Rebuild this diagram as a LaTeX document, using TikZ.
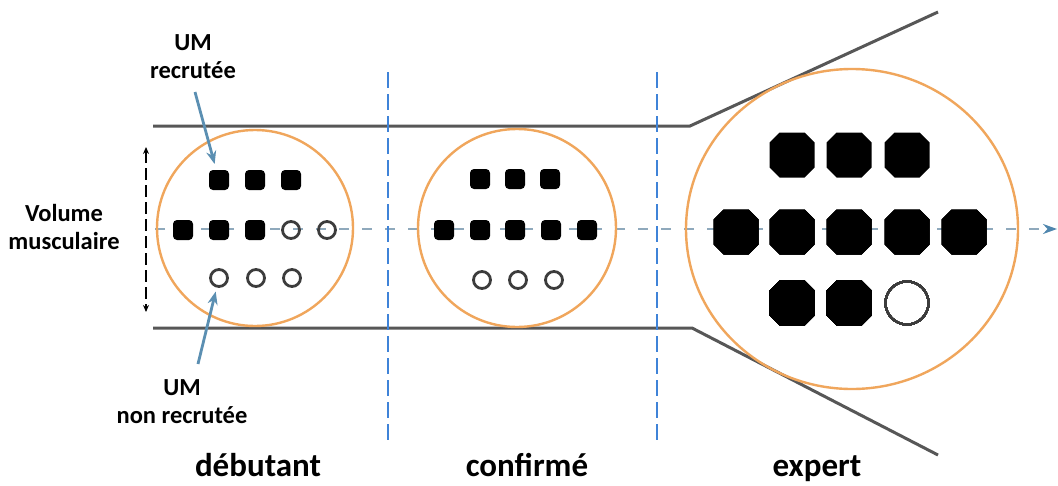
\documentclass[tikz,border=0pt]{standalone}
\usepackage{fontspec}
\setmainfont{Carlito}
\usetikzlibrary{arrows.meta}
\definecolor{tubegrey}{HTML}{575757}
\definecolor{ringorange}{HTML}{F0A65C}
\definecolor{sepblue}{HTML}{3F83D8}
\definecolor{axisgrey}{HTML}{8FA9BC}
\definecolor{axishead}{HTML}{4F86AE}
\definecolor{pointblue}{HTML}{5B8FB2}
\definecolor{ringgrey}{HTML}{3C3C3C}
\tikzset{
  tube/.style={draw=tubegrey, line width=3pt},
  ring/.style={draw=ringorange, line width=2.4pt},
  separator/.style={draw=sepblue, line width=2pt, dash pattern=on 16pt off 6pt},
  axisline/.style={draw=axisgrey, line width=2pt, dash pattern=on 10pt off 13pt,
    -{Stealth[length=14pt,width=10pt,color=axishead]}},
  umon/.style={rectangle, fill=black, minimum size=20pt, inner sep=0pt, rounded corners=4pt},
  umoff/.style={circle, draw=ringgrey, line width=2.8pt, minimum size=17pt, inner sep=0pt},
  bigoff/.style={circle, draw=ringgrey, line width=2pt, minimum size=43pt, inner sep=0pt},
  pointer/.style={draw=pointblue, line width=2.8pt, -{Stealth[length=13pt,width=10pt]}},
  volarrow/.style={draw=black, line width=1.4pt, dash pattern=on 12pt off 5pt,
    {Stealth[length=7pt,width=6pt]}-{Stealth[length=7pt,width=6pt]}},
  label/.style={font=\fontsize{24.5}{28}\selectfont\bfseries, align=center, inner sep=0pt},
  stage/.style={font=\fontsize{33}{36}\selectfont\bfseries, inner sep=0pt, anchor=base},
}
% filled octagon: half width 22.5, corners cut by 10
\newcommand{\octo}[2]{%
  \fill[shift={(#1,#2)}] (-12.5,-22.5) -- (12.5,-22.5) -- (22.5,-12.5) -- (22.5,12.5)
    -- (12.5,22.5) -- (-12.5,22.5) -- (-22.5,12.5) -- (-22.5,-12.5) -- cycle;}
\begin{document}
\begin{tikzpicture}[x=1pt,y=-1pt]
\useasboundingbox (0,0) rectangle (1058,485);
\fill[white] (0,0) rectangle (1058,485);

% central axis
\coordinate (axA) at (155,229);
\coordinate (axB) at (1057,229);
\draw[axisline] (axA) -- (axB);

% muscle outline
\coordinate (t0) at (153,126); \coordinate (t1) at (690,126); \coordinate (t2) at (938,12);
\coordinate (b0) at (153,328); \coordinate (b1) at (692,328); \coordinate (b2) at (938,455);
\draw[tube] (t0) -- (t1) -- (t2);
\draw[tube] (b0) -- (b1) -- (b2);

% cross sections
\draw[ring] (255,228) circle[radius=98];
\draw[ring] (517,228) circle[radius=99];
\draw[ring] (852,229) ellipse[x radius=166, y radius=160];

% beginner
\foreach \x [count=\i] in {219,255,291} \node[umon] (d-t\i) at (\x,180) {};
\foreach \x [count=\i] in {183,219,255} \node[umon] (d-m\i) at (\x,230) {};
\foreach \x [count=\i] in {291,327} \node[umoff] (d-o\i) at (\x,230) {};
\foreach \x [count=\i] in {219,256,292} \node[umoff] (d-b\i) at (\x,278) {};

% confirmed
\foreach \x [count=\i] in {480,515,550} \node[umon] (c-t\i) at (\x,179) {};
\foreach \x [count=\i] in {444,480,515,551,587} \node[umon] (c-m\i) at (\x,230) {};
\foreach \x [count=\i] in {482,518,554} \node[umoff] (c-b\i) at (\x,280) {};

% expert
\foreach \x in {792,849,907} \octo{\x}{155}
\foreach \x in {736,792,849,907,964} \octo{\x}{232}
\foreach \x in {792,849} \octo{\x}{303}
\node[bigoff] (e-b3) at (907,303) {};

% stage separators
\coordinate (s1a) at (388,72); \coordinate (s1b) at (388,442);
\coordinate (s2a) at (657,72); \coordinate (s2b) at (657,442);
\draw[separator] (s1a) -- (s1b);
\draw[separator] (s2a) -- (s2b);

% labels
\node[label] (umr) at (193,57) {UM\\recrutée};
\node[label] (umn) at (182,402) {UM\\non recrutée};
\node[label] (vol) at (64,227) {Volume\\musculaire};
\node[stage] (deb) at (258,476) {débutant};
\node[stage] (con) at (527,476) {confirmé};
\node[stage] (exp) at (817,476) {expert};

% pointers
\coordinate (p1) at (195,92);
\coordinate (p2) at (198,364);
\draw[pointer, shorten >=6pt] (p1) -- (d-t1);
\draw[pointer, shorten >=4pt] (p2) -- (d-b1);

% muscle volume
\coordinate (v1) at (146,147);
\coordinate (v2) at (146,312);
\draw[volarrow] (v1) -- (v2);
\end{tikzpicture}
\end{document}
